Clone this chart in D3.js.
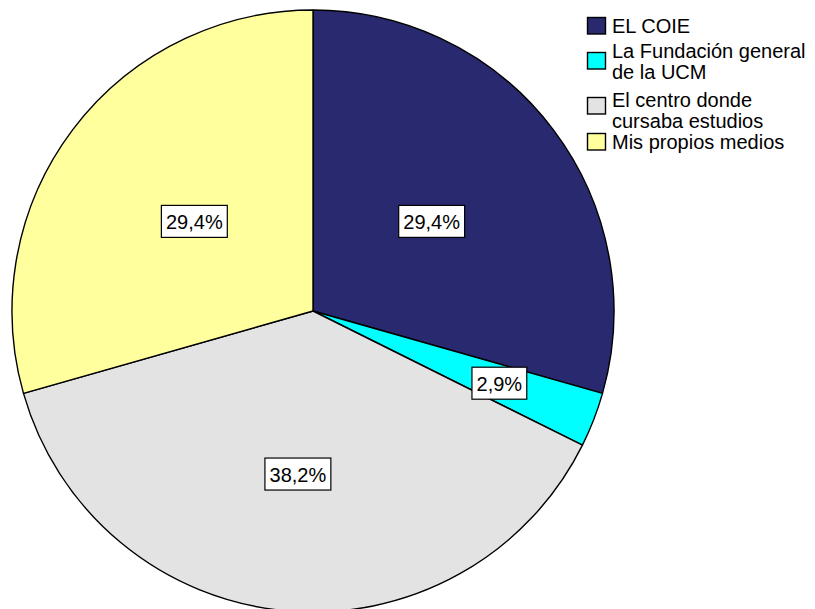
<!DOCTYPE html>
<html>
<head>
<meta charset="utf-8">
<script src="https://cdn.jsdelivr.net/npm/d3@7"></script>
<style>
  html, body { margin: 0; padding: 0; background: #fff; }
  svg { display: block; }
</style>
</head>
<body>
<svg id="chart" width="815" height="609"></svg>
<script>
// Source of funding: counts per answer
const categories = ["EL COIE", "La Fundación general de la UCM", "El centro donde cursaba estudios", "Mis propios medios"];
const legendLines = [["EL COIE"], ["La Fundación general", "de la UCM"], ["El centro donde", "cursaba estudios"], ["Mis propios medios"]];
const counts = [10, 1, 13, 10];
const percentLabels = ["29,4%", "2,9%", "38,2%", "29,4%"];
const colors = ["#29296f", "#00ffff", "#e3e3e3", "#ffff9e"];
// radial placement of each percentage box, as a fraction of the pie radius
const labelRadius = [0.494, 0.664, 0.544, 0.494];

const svg = d3.select("#chart");
const cx = 313, cy = 311, R = 301;
const font = "Liberation Sans, Arial, sans-serif";

const pie = d3.pie().sort(null).value(d => d)(counts);
const arc = d3.arc().innerRadius(0).outerRadius(R);

const g = svg.append("g").attr("transform", `translate(${cx},${cy})`);

g.selectAll("path.slice")
  .data(pie)
  .join("path")
  .attr("class", "slice")
  .attr("d", arc)
  .attr("fill", (d, i) => colors[i])
  .attr("stroke", "#000")
  .attr("stroke-width", 1.4)
  .attr("stroke-linejoin", "round");

// percentage labels in white boxes
const labels = g.selectAll("g.lbl")
  .data(pie)
  .join("g")
  .attr("class", "lbl")
  .attr("transform", (d, i) => {
    const a = (d.startAngle + d.endAngle) / 2;
    const r = R * labelRadius[i];
    return `translate(${r * Math.sin(a)},${-r * Math.cos(a)})`;
  });

labels.each(function (d, i) {
  const sel = d3.select(this);
  const t = sel.append("text")
    .attr("text-anchor", "middle")
    .attr("y", 7.5)
    .attr("font-family", font)
    .attr("font-size", 20)
    .attr("fill", "#000")
    .text(percentLabels[i]);
  const bb = t.node().getBBox();
  sel.insert("rect", "text")
    .attr("x", -bb.width / 2 - 4.5)
    .attr("y", -16)
    .attr("width", bb.width + 9)
    .attr("height", 32)
    .attr("fill", "#fff")
    .attr("stroke", "#000")
    .attr("stroke-width", 1.2);
});

// legend
const legendSwatchTop = [17.5, 52.5, 97.5, 133.5];
const legendBaseline = [33, 58, 107, 149];
const legendLineGap = 21;
const lg = svg.append("g");
categories.forEach((c, i) => {
  lg.append("rect")
    .attr("x", 587.5).attr("y", legendSwatchTop[i])
    .attr("width", 18).attr("height", 16.5)
    .attr("fill", colors[i])
    .attr("stroke", "#000")
    .attr("stroke-width", 1.4);
  const txt = lg.append("text")
    .attr("font-family", font)
    .attr("font-size", 20)
    .attr("fill", "#000");
  legendLines[i].forEach((line, j) => {
    txt.append("tspan")
      .attr("x", 612)
      .attr("y", legendBaseline[i] + j * legendLineGap)
      .text(line);
  });
});
</script>
</body>
</html>
